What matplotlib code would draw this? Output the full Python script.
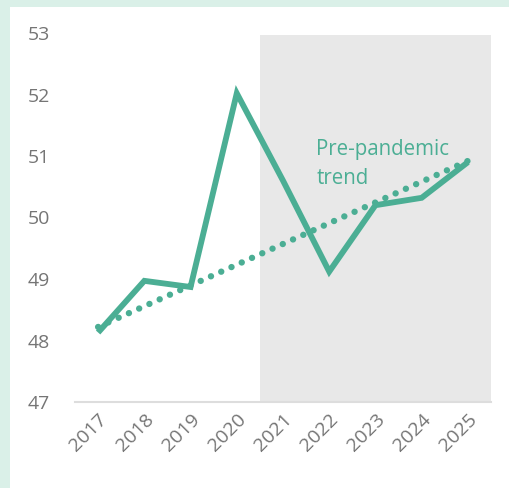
import matplotlib
matplotlib.use("Agg")
import matplotlib.pyplot as plt
import matplotlib.transforms as mtransforms

years = ["2017", "2018", "2019", "2020", "2021", "2022", "2023", "2024", "2025"]
values = [48.13, 48.97, 48.87, 52.02, 50.6, 49.12, 50.2, 50.32, 50.9]
trend_years = ["2017", "2025"]
trend_values = [48.22, 50.92]
yticks = [47, 48, 49, 50, 51, 52, 53]
shade_from = "2021"

teal = "#4bae94"
gray_text = "#757575"

plt.rcParams['font.family'] = ['Open Sans', 'DejaVu Sans']

fig = plt.figure(figsize=(5.09, 4.88), dpi=100)
fig.patch.set_facecolor("#daf0e8")
bg = fig.add_axes([10/509, 0, 1 - 10/509, 1 - 7/488], zorder=0)
bg.set_facecolor("white")
bg.set_xticks([]); bg.set_yticks([])
for sp in bg.spines.values():
    sp.set_visible(False)

ax = fig.add_axes([75/509, 1 - 402/488, (491-75)/509, (402-33)/488], zorder=1)
ax.set_facecolor("none")
x = list(range(len(years)))
idx = {y: i for i, y in enumerate(years)}

s = idx[shade_from] - 0.5
ax.axvspan(s, len(years) - 0.5, ymin=0, ymax=(52.97-47)/6, color="#e8e8e8", lw=0, zorder=0)

tx = [idx[t] for t in trend_years]
ax.plot(tx, trend_values, color=teal, lw=4.6, linestyle=(0, (0.01, 1.75)),
        dash_capstyle="round", zorder=2)
ax.plot(x, values, color=teal, lw=4.2, solid_joinstyle="miter", solid_capstyle="butt", zorder=3)

ax.text(4.72, 51.27, "Pre-pandemic\ntrend", color=teal, fontsize=14.8, ha="left", va="top",
        linespacing=1.45)

ax.set_xlim(-0.5, len(years) - 0.5)
ax.set_ylim(47, 53)
ax.set_yticks(yticks)
ax.set_yticklabels([str(v) for v in yticks])
ax.set_xticks(x)
ax.set_xticklabels(years, rotation=45, ha="right", rotation_mode="anchor")
for sp in ["top", "right", "left"]:
    ax.spines[sp].set_visible(False)
ax.spines["bottom"].set_color("#dddddd")
ax.spines["bottom"].set_linewidth(1.5)
ax.tick_params(axis="both", length=0, labelsize=14, colors=gray_text)
ax.tick_params(axis="x", pad=6)
off = mtransforms.ScaledTranslation(-47/100, 0, fig.dpi_scale_trans)
for lab in ax.get_yticklabels():
    lab.set_horizontalalignment("left")
    lab.set_transform(ax.get_yaxis_transform() + off)
    lab.set_x(0)

fig.savefig("out.png", dpi=100, facecolor=fig.get_facecolor())
